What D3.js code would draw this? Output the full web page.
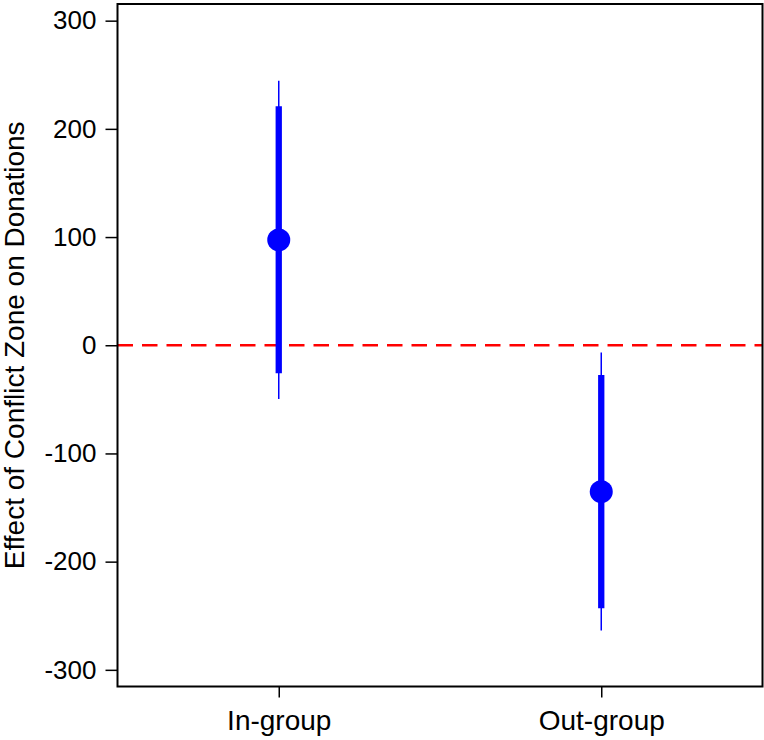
<!DOCTYPE html>
<html>
<head>
<meta charset="utf-8">
<script src="https://cdn.jsdelivr.net/npm/d3@7"></script>
<style>
  html, body { margin: 0; padding: 0; background: #fff; }
  svg { display: block; }
  text { font-family: "Liberation Sans", Arial, Helvetica, sans-serif; fill: #000; }
</style>
</head>
<body>
<svg id="chart" width="764" height="740"></svg>
<script>
// Estimated effects with 90% (thick) and 95% (thin) confidence intervals
const groups = ["In-group", "Out-group"];
const estimate = [97.3, -135.3];
const ci90Low = [-25.9, -243.0];
const ci90High = [221.0, -27.4];
const ci95Low = [-49.6, -263.7];
const ci95High = [244.5, -6.8];
const yTicks = [-300, -200, -100, 0, 100, 200, 300];
const yLabel = "Effect of Conflict Zone on Donations";

const svg = d3.select("#chart");
const margin = { top: 4, right: 1.5, bottom: 53.5, left: 117.5 };
const W = 764, H = 740;
const innerW = W - margin.left - margin.right;
const innerH = H - margin.top - margin.bottom;

const g = svg.append("g").attr("transform", `translate(${margin.left},${margin.top})`);

const x = d3.scalePoint().domain(groups).range([0, innerW]).padding(0.5);
const y = d3.scaleLinear().domain([-315.4, 315.4]).range([innerH, 0]);

// Zero reference line
g.append("line")
  .attr("x1", 0).attr("x2", innerW)
  .attr("y1", y(0)).attr("y2", y(0))
  .attr("stroke", "#ff0000").attr("stroke-width", 2.5)
  .attr("stroke-dasharray", "15.5,9");

// Thin 95% intervals
g.selectAll("line.ci95").data(groups).join("line")
  .attr("class", "ci95")
  .attr("x1", d => x(d)).attr("x2", d => x(d))
  .attr("y1", (d, i) => y(ci95Low[i])).attr("y2", (d, i) => y(ci95High[i]))
  .attr("stroke", "#0000ff").attr("stroke-width", 1.5);

// Thick 90% intervals
g.selectAll("line.ci90").data(groups).join("line")
  .attr("class", "ci90")
  .attr("x1", d => x(d)).attr("x2", d => x(d))
  .attr("y1", (d, i) => y(ci90Low[i])).attr("y2", (d, i) => y(ci90High[i]))
  .attr("stroke", "#0000ff").attr("stroke-width", 6.3);

// Point estimates
g.selectAll("circle.est").data(groups).join("circle")
  .attr("class", "est")
  .attr("cx", d => x(d)).attr("cy", (d, i) => y(estimate[i]))
  .attr("r", 11.5)
  .attr("fill", "#0000ff");

// Frame
g.append("rect")
  .attr("x", 0).attr("y", 0).attr("width", innerW).attr("height", innerH)
  .attr("fill", "none").attr("stroke", "#000").attr("stroke-width", 2);

// Y axis (plain hyphen for negative labels)
const yAxis = g.append("g")
  .call(d3.axisLeft(y).tickValues(yTicks).tickSize(12).tickPadding(9).tickFormat(d => String(d)));
yAxis.select(".domain").remove();
yAxis.selectAll(".tick line").attr("stroke", "#000").attr("stroke-width", 1.5);
yAxis.selectAll(".tick text").style("font-size", "26px").attr("fill", "#000");

// X axis
const xAxis = g.append("g").attr("transform", `translate(0,${innerH})`)
  .call(d3.axisBottom(x).tickSize(11).tickPadding(13));
xAxis.select(".domain").remove();
xAxis.selectAll(".tick line").attr("stroke", "#000").attr("stroke-width", 1.5);
xAxis.selectAll(".tick text").style("font-size", "28px").attr("fill", "#000");

// Y axis title
svg.append("text")
  .attr("transform", `translate(23.5,${margin.top + y(0)}) rotate(-90)`)
  .attr("text-anchor", "middle")
  .style("font-size", "28px")
  .text(yLabel);
</script>
</body>
</html>
